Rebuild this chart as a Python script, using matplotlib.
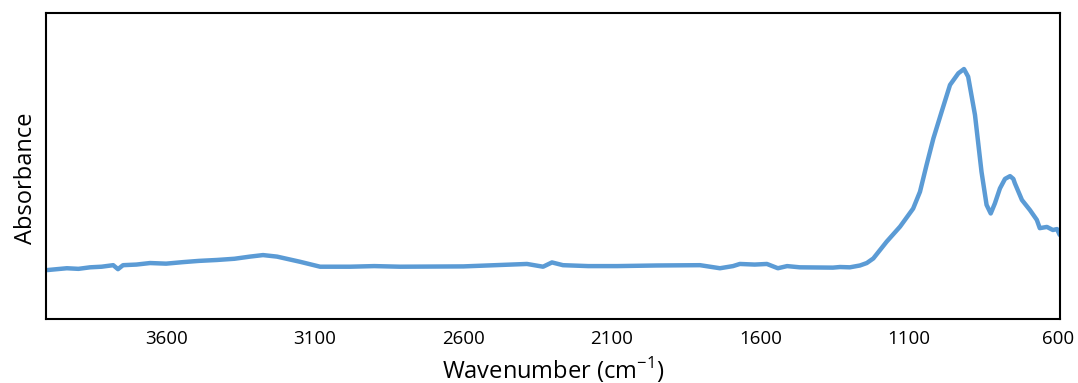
import numpy as np
import matplotlib
matplotlib.use("Agg")
import matplotlib.pyplot as plt

plt.rcParams['font.family'] = ['Open Sans', 'DejaVu Sans']
plt.rcParams['mathtext.fontset'] = 'custom'
plt.rcParams['mathtext.rm'] = 'Open Sans'

# FTIR spectrum (wavenumber in cm-1, absorbance in arbitrary units)
wavenumber = [4000, 3967, 3934, 3895, 3856, 3817, 3778, 3762, 3745, 3700, 3654, 3600,
              3543, 3490, 3429, 3370, 3318, 3274, 3227, 3149, 3082, 2981, 2900,
              2813, 2600, 2386, 2332, 2302, 2265, 2180, 2083, 1950, 1804, 1737,
              1693, 1670, 1620, 1579, 1542, 1511, 1468, 1357, 1333, 1300, 1266,
              1243, 1221, 1176, 1131, 1087, 1064, 1042, 1019, 991, 963, 935, 916,
              902, 879, 857, 840, 826, 812, 795, 778, 761, 750, 745, 721, 694, 671,
              661, 637, 617, 603, 594]
absorbance = [0.160, 0.163, 0.166, 0.164, 0.169, 0.171, 0.176, 0.163, 0.176, 0.178,
              0.183, 0.181, 0.186, 0.190, 0.193, 0.197, 0.204, 0.209, 0.204, 0.187,
              0.171, 0.171, 0.173, 0.171, 0.172, 0.180, 0.171, 0.185, 0.176, 0.173,
              0.173, 0.175, 0.176, 0.166, 0.173, 0.180, 0.178, 0.180, 0.166, 0.173,
              0.169, 0.168, 0.170, 0.169, 0.175, 0.183, 0.198, 0.253, 0.302, 0.361,
              0.416, 0.503, 0.590, 0.678, 0.765, 0.803, 0.817, 0.792, 0.667, 0.481,
              0.373, 0.345, 0.378, 0.427, 0.458, 0.467, 0.458, 0.444, 0.389, 0.356,
              0.324, 0.297, 0.301, 0.291, 0.294, 0.275]
xticks = [3600, 3100, 2600, 2100, 1600, 1100, 600]

fig = plt.figure(figsize=(10.78, 3.83), dpi=100)
ax = fig.add_axes([0.0427, 0.167, 0.9406, 0.799])

ax.plot(wavenumber, absorbance, color='#5B9BD5', linewidth=3.2,
        solid_joinstyle='round', solid_capstyle='round')

ax.set_xlim(4004, 593)
ax.set_ylim(0, 1)
ax.set_xticks(xticks)
ax.set_xticklabels([str(t) for t in xticks])
ax.set_yticks([])
ax.tick_params(axis='x', length=0, pad=8, labelsize=13.5)
for s in ax.spines.values():
    s.set_color('black')
    s.set_linewidth(1.5)

ax.set_xlabel(r'Wavenumber (cm$^{\mathregular{-1}}$)', fontsize=17, labelpad=5)
ax.set_ylabel('Absorbance', fontsize=17)
ax.yaxis.set_label_coords(-0.008, 0.46)

fig.savefig('out.png', dpi=100)
